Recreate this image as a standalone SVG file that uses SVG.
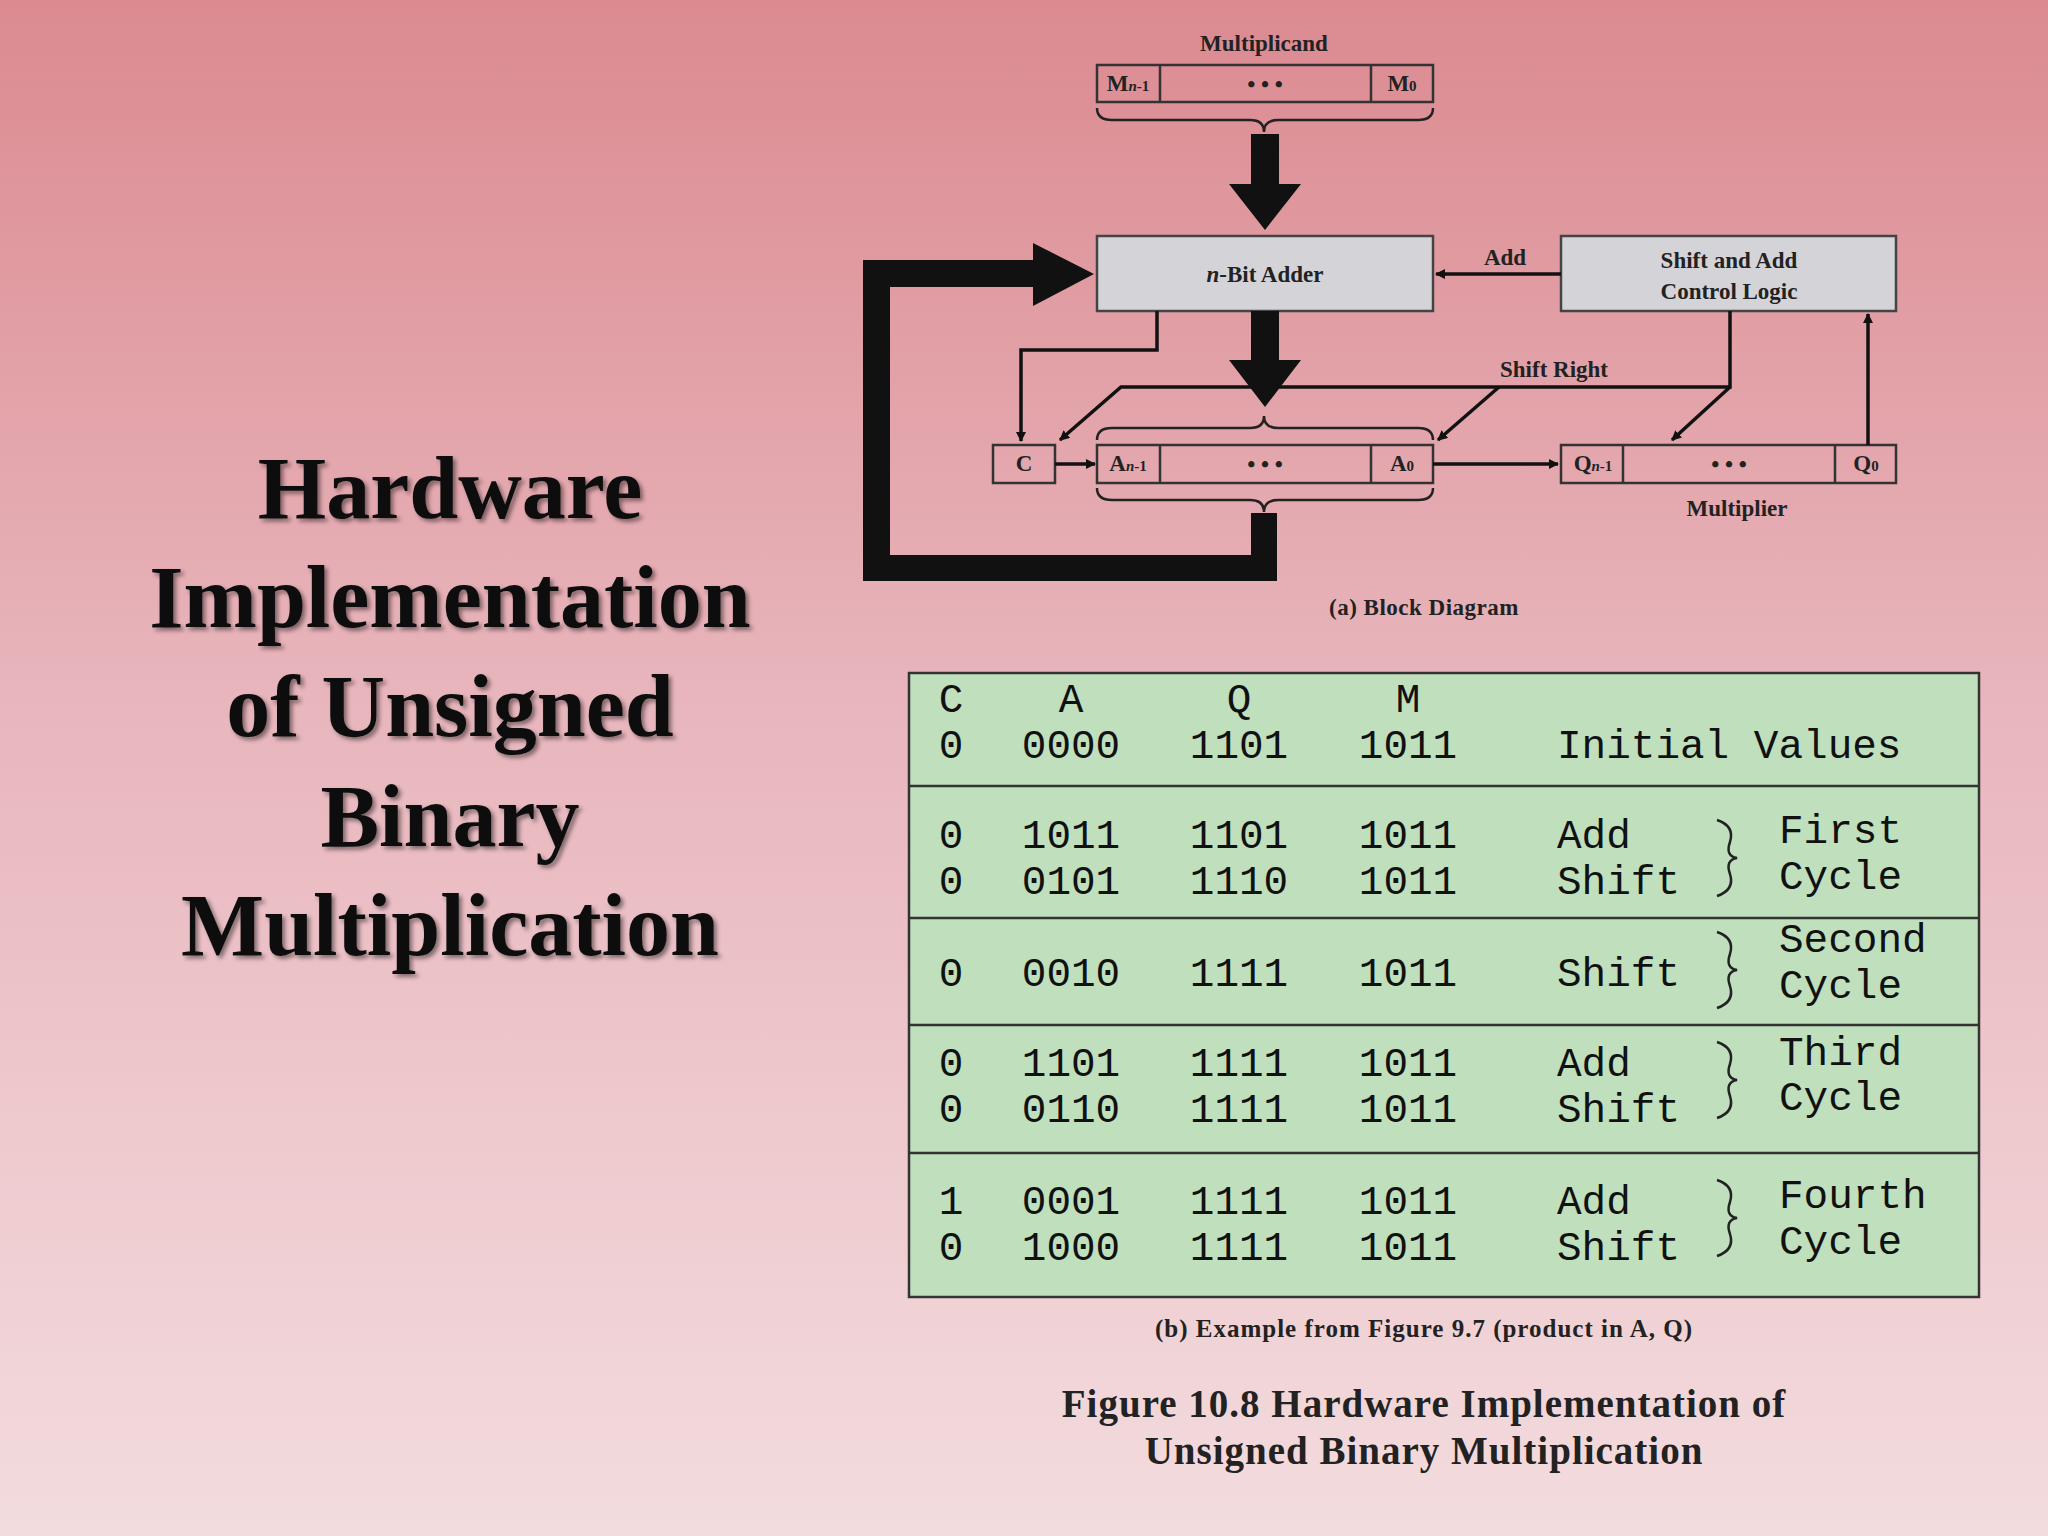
<svg xmlns="http://www.w3.org/2000/svg" width="2048" height="1536" viewBox="0 0 2048 1536">
<defs>
<linearGradient id="bg" x1="0" y1="0" x2="0" y2="1">
<stop offset="0" stop-color="#db8a90"/><stop offset="0.45" stop-color="#e8b5bc"/><stop offset="1" stop-color="#f3dcde"/>
</linearGradient>
<filter id="sh"><feDropShadow dx="3" dy="3" stdDeviation="2" flood-color="#000" flood-opacity="0.45"/></filter>
<marker id="ah" markerWidth="10" markerHeight="10" refX="9" refY="5" orient="auto" markerUnits="userSpaceOnUse" viewBox="0 0 10 10"><path d="M0,0 L10,5 L0,10 z" fill="#111"/></marker>
</defs>
<style>
.t{font-family:"Liberation Serif",serif;font-weight:bold;fill:#111;}
.bd{font-family:"Liberation Serif",serif;font-weight:bold;fill:#222;font-size:23px;text-anchor:middle;}
.cell{fill:none;stroke:#333;stroke-width:2.5;}
.gray{fill:#d4d4d8;stroke:#444;stroke-width:2.5;}
.ln{fill:none;stroke:#111;stroke-width:3.5;}
.brace{fill:none;stroke:#222;stroke-width:2.5;}
.thick{fill:#111;}
.m{font-family:"Liberation Mono",monospace;font-size:41px;fill:#111;}
.cap{font-family:"Liberation Serif",serif;font-weight:bold;fill:#222;text-anchor:middle;}
</style>
<rect width="2048" height="1536" fill="url(#bg)"/>
<g id="title" class="t" font-size="88" text-anchor="middle" filter="url(#sh)">
<text x="450" y="518">Hardware</text>
<text x="450" y="627">Implementation</text>
<text x="450" y="736">of  Unsigned</text>
<text x="450" y="846">Binary</text>
<text x="450" y="955">Multiplication</text>
</g>
<g id="multiplicand">
<text class="bd" x="1264" y="51">Multiplicand</text>
<rect class="cell" x="1097" y="65" width="336" height="37"/>
<line class="cell" x1="1160" y1="65" x2="1160" y2="102"/><line class="cell" x1="1371" y1="65" x2="1371" y2="102"/>
<text class="bd" x="1128" y="91">M<tspan font-size="15" font-style="italic">n</tspan><tspan font-size="15">-1</tspan></text>
<text class="bd" x="1402" y="91">M<tspan font-size="15">0</tspan></text>
<text class="bd" x="1265" y="92" font-size="30">• • •</text>
<path class="brace" d="M1097,108 Q1097,120 1112,120 L1250,120 Q1264,120 1264,132 Q1264,120 1278,120 L1418,120 Q1433,120 1433,108"/>
</g>
<g id="adder">
<rect class="gray" x="1097" y="236" width="336" height="75"/>
<text class="bd" x="1265" y="282"><tspan font-style="italic">n</tspan>-Bit Adder</text>
</g>
<g id="control">
<rect class="gray" x="1561" y="236" width="335" height="75"/>
<text class="bd" x="1729" y="268">Shift and Add</text>
<text class="bd" x="1729" y="299">Control Logic</text>
</g>
<g id="c">
<rect class="cell" x="993" y="445" width="62" height="38"/>
<text class="bd" x="1024" y="471">C</text>
</g>
<g id="a">
<rect class="cell" x="1097" y="445" width="336" height="38"/>
<line class="cell" x1="1160" y1="445" x2="1160" y2="483"/><line class="cell" x1="1371" y1="445" x2="1371" y2="483"/>
<text class="bd" x="1128" y="471">A<tspan font-size="15" font-style="italic">n</tspan><tspan font-size="15">-1</tspan></text>
<text class="bd" x="1402" y="471">A<tspan font-size="15">0</tspan></text>
<text class="bd" x="1265" y="472" font-size="30">• • •</text>
<path class="brace" d="M1097,440 Q1097,428 1112,428 L1250,428 Q1264,428 1264,416 Q1264,428 1278,428 L1418,428 Q1433,428 1433,440"/>
<path class="brace" d="M1097,488 Q1097,500 1112,500 L1250,500 Q1264,500 1264,512 Q1264,500 1278,500 L1418,500 Q1433,500 1433,488"/>
</g>
<g id="q">
<rect class="cell" x="1561" y="445" width="335" height="38"/>
<line class="cell" x1="1623" y1="445" x2="1623" y2="483"/><line class="cell" x1="1835" y1="445" x2="1835" y2="483"/>
<text class="bd" x="1593" y="471">Q<tspan font-size="15" font-style="italic">n</tspan><tspan font-size="15">-1</tspan></text>
<text class="bd" x="1866" y="471">Q<tspan font-size="15">0</tspan></text>
<text class="bd" x="1729" y="472" font-size="30">• • •</text>
<text class="bd" x="1737" y="516">Multiplier</text>
</g>
<g id="connectors">
<path class="thick" d="M1251,134 L1279,134 L1279,184 L1301,184 L1265,230 L1229,184 L1251,184 z"/>
<path class="thick" d="M1251,311 L1279,311 L1279,360 L1301,360 L1265,407 L1229,360 L1251,360 z"/>
<path class="thick" d="M1251,513 L1277,513 L1277,581 L863,581 L863,260 L1033,260 L1033,243 L1094,274 L1033,306 L1033,287 L890,287 L890,555 L1251,555 z"/>
<line class="ln" x1="1561" y1="274" x2="1436" y2="274" marker-end="url(#ah)"/>
<text class="bd" x="1505" y="265">Add</text>
<polyline class="ln" points="1157,311 1157,350 1021,350 1021,441" marker-end="url(#ah)"/>
<line class="ln" x1="1055" y1="464" x2="1095" y2="464" marker-end="url(#ah)"/>
<line class="ln" x1="1433" y1="464" x2="1558" y2="464" marker-end="url(#ah)"/>
<line class="ln" x1="1868" y1="445" x2="1868" y2="314" marker-end="url(#ah)"/>
<polyline class="ln" points="1730,311 1730,387 1121,387 1060,440" marker-end="url(#ah)"/>
<line class="ln" x1="1499" y1="387" x2="1438" y2="440" marker-end="url(#ah)"/>
<line class="ln" x1="1730" y1="387" x2="1672" y2="440" marker-end="url(#ah)"/>
<text class="bd" x="1554" y="377">Shift Right</text>
<text class="bd" x="1424" y="615" letter-spacing="0.5">(a) Block Diagram</text>
</g>
<g id="table">
<rect x="909" y="673" width="1070" height="624" fill="#bfdfbd" stroke="#333" stroke-width="2.5"/>
<g stroke="#333" stroke-width="2.5">
<line x1="909" y1="786" x2="1979" y2="786"/><line x1="909" y1="918" x2="1979" y2="918"/>
<line x1="909" y1="1025" x2="1979" y2="1025"/><line x1="909" y1="1153" x2="1979" y2="1153"/>
</g>
<g class="m" text-anchor="middle">
<text x="951" y="712">C</text><text x="1071" y="712">A</text><text x="1239" y="712">Q</text><text x="1408" y="712">M</text>
<text x="951" y="758">0</text><text x="1071" y="758">0000</text><text x="1239" y="758">1101</text><text x="1408" y="758">1011</text>
<text x="951" y="848">0</text><text x="1071" y="848">1011</text><text x="1239" y="848">1101</text><text x="1408" y="848">1011</text>
<text x="951" y="894">0</text><text x="1071" y="894">0101</text><text x="1239" y="894">1110</text><text x="1408" y="894">1011</text>
<text x="951" y="986">0</text><text x="1071" y="986">0010</text><text x="1239" y="986">1111</text><text x="1408" y="986">1011</text>
<text x="951" y="1076">0</text><text x="1071" y="1076">1101</text><text x="1239" y="1076">1111</text><text x="1408" y="1076">1011</text>
<text x="951" y="1122">0</text><text x="1071" y="1122">0110</text><text x="1239" y="1122">1111</text><text x="1408" y="1122">1011</text>
<text x="951" y="1214">1</text><text x="1071" y="1214">0001</text><text x="1239" y="1214">1111</text><text x="1408" y="1214">1011</text>
<text x="951" y="1260">0</text><text x="1071" y="1260">1000</text><text x="1239" y="1260">1111</text><text x="1408" y="1260">1011</text>
</g>
<g class="m">
<text x="1557" y="758">Initial Values</text>
<text x="1557" y="848">Add</text><text x="1557" y="894">Shift</text>
<text x="1557" y="986">Shift</text>
<text x="1557" y="1076">Add</text><text x="1557" y="1122">Shift</text>
<text x="1557" y="1214">Add</text><text x="1557" y="1260">Shift</text>
<text x="1779" y="843">First</text><text x="1779" y="889">Cycle</text>
<text x="1779" y="952">Second</text><text x="1779" y="998">Cycle</text>
<text x="1779" y="1065">Third</text><text x="1779" y="1110">Cycle</text>
<text x="1779" y="1208">Fourth</text><text x="1779" y="1254">Cycle</text>
</g>
<g class="brace" stroke-width="3">
<path d="M1717,820 Q1735,826 1730,842 Q1725,856 1737,858 Q1725,860 1730,874 Q1735,890 1717,896"/>
<path d="M1717,932 Q1735,938 1730,954 Q1725,968 1737,970 Q1725,972 1730,986 Q1735,1002 1717,1008"/>
<path d="M1717,1042 Q1735,1048 1730,1064 Q1725,1078 1737,1080 Q1725,1082 1730,1096 Q1735,1112 1717,1118"/>
<path d="M1717,1180 Q1735,1186 1730,1202 Q1725,1216 1737,1218 Q1725,1220 1730,1234 Q1735,1250 1717,1256"/>
</g>
</g>
<g id="captions">
<text class="cap" x="1424" y="1337" font-size="25" letter-spacing="1">(b) Example from Figure 9.7 (product in A, Q)</text>
<text class="cap" x="1424" y="1417" font-size="39" letter-spacing="1">Figure 10.8  Hardware Implementation of</text>
<text class="cap" x="1424" y="1464" font-size="39" letter-spacing="1">Unsigned Binary Multiplication</text>
</g>
</svg>
